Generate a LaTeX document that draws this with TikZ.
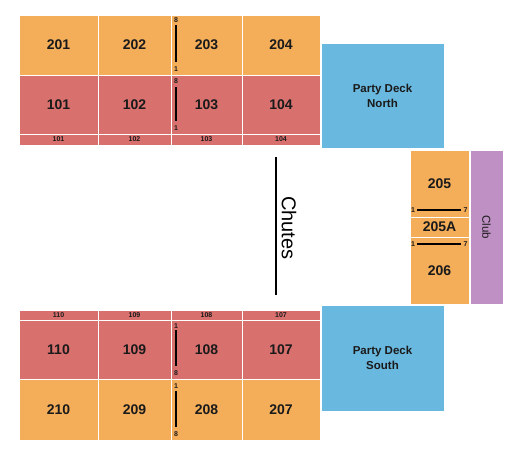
\documentclass[tikz,border=0pt]{standalone}
\usepackage{fontspec}
\setmainfont{Liberation Sans}
\definecolor{secor}{HTML}{F4AE5A}
\definecolor{secred}{HTML}{D8706E}
\definecolor{secblue}{HTML}{69B8DF}
\definecolor{secpurp}{HTML}{BF90C4}
\definecolor{txt}{HTML}{1A1A1A}
\tikzset{
  sec/.style={draw=white, line width=1pt, inner sep=0pt, text=txt,
    font=\fontsize{14}{14}\selectfont\bfseries},
  strip/.style={sec, font=\fontsize{7}{7}\selectfont\bfseries},
  deck/.style={sec, fill=secblue, align=center,
    font=\fontsize{11.5}{15}\selectfont\bfseries},
  mk/.style={inner sep=0pt, text=txt, font=\fontsize{7}{7}\selectfont\bfseries},
  rowline/.style={draw=black, line width=1.1pt},
}
\begin{document}
\begin{tikzpicture}[x=1pt,y=-1pt]
\useasboundingbox (0,0) rectangle (525,455);
% top 200s
\node[sec, fill=secor, minimum width=79, minimum height=60] (s201) at (58.5,45) {201};
\node[sec, fill=secor, minimum width=73, minimum height=60] (s202) at (134.5,45) {202};
\node[sec, fill=secor, minimum width=71, minimum height=60] (s203) at (206.5,45) {203};
\node[sec, fill=secor, minimum width=78, minimum height=60] (s204) at (281,45) {204};
% top 100s
\node[sec, fill=secred, minimum width=79, minimum height=59] (s101) at (58.5,104.5) {101};
\node[sec, fill=secred, minimum width=73, minimum height=59] (s102) at (134.5,104.5) {102};
\node[sec, fill=secred, minimum width=71, minimum height=59] (s103) at (206.5,104.5) {103};
\node[sec, fill=secred, minimum width=78, minimum height=59] (s104) at (281,104.5) {104};
% top strip
\node[strip, fill=secred, minimum width=79, minimum height=11] (t101) at (58.5,139.5) {101};
\node[strip, fill=secred, minimum width=73, minimum height=11] (t102) at (134.5,139.5) {102};
\node[strip, fill=secred, minimum width=71, minimum height=11] (t103) at (206.5,139.5) {103};
\node[strip, fill=secred, minimum width=78, minimum height=11] (t104) at (281,139.5) {104};
% bottom strip
\node[strip, fill=secred, minimum width=79, minimum height=10] (t110) at (58.5,315) {110};
\node[strip, fill=secred, minimum width=73, minimum height=10] (t109) at (134.5,315) {109};
\node[strip, fill=secred, minimum width=71, minimum height=10] (t108) at (206.5,315) {108};
\node[strip, fill=secred, minimum width=78, minimum height=10] (t107) at (281,315) {107};
% bottom 100s
\node[sec, fill=secred, minimum width=79, minimum height=59] (s110) at (58.5,349.5) {110};
\node[sec, fill=secred, minimum width=73, minimum height=59] (s109) at (134.5,349.5) {109};
\node[sec, fill=secred, minimum width=71, minimum height=59] (s108) at (206.5,349.5) {108};
\node[sec, fill=secred, minimum width=78, minimum height=59] (s107) at (281,349.5) {107};
% bottom 200s
\node[sec, fill=secor, minimum width=79, minimum height=61] (s210) at (58.5,409.5) {210};
\node[sec, fill=secor, minimum width=73, minimum height=61] (s209) at (134.5,409.5) {209};
\node[sec, fill=secor, minimum width=71, minimum height=61] (s208) at (206.5,409.5) {208};
\node[sec, fill=secor, minimum width=78, minimum height=61] (s207) at (281,409.5) {207};
% party decks
\node[deck, minimum width=123, minimum height=105] (pdn) at (382.5,95.5) {Party Deck\\North};
\node[deck, minimum width=123, minimum height=106] (pds) at (382.5,358) {Party Deck\\South};
% right side
\node[sec, fill=secor, minimum width=59, minimum height=67] (s205) at (439.5,183.5) {205};
\node[sec, fill=secor, minimum width=59, minimum height=20] (s205a) at (439.5,227) {205A};
\node[sec, fill=secor, minimum width=59, minimum height=67] (s206) at (439.5,270.5) {206};
\node[sec, fill=secpurp, minimum width=154, minimum height=33, rotate=-90,
  font=\fontsize{11.5}{11.5}\selectfont] (club) at (486.5,227) {Club};
% row markers
\node[mk] (r203t) at (176,20) {8};
\node[mk] (r203b) at (176,69) {1};
\coordinate (l203a) at (176,25); \coordinate (l203b) at (176,62);
\draw[rowline] (l203a) -- (l203b);
\node[mk] (r103t) at (176,81) {8};
\node[mk] (r103b) at (176,128) {1};
\coordinate (l103a) at (176,87); \coordinate (l103b) at (176,121);
\draw[rowline] (l103a) -- (l103b);
\node[mk] (r108t) at (176,326) {1};
\node[mk] (r108b) at (176,373) {8};
\coordinate (l108a) at (176,330); \coordinate (l108b) at (176,366);
\draw[rowline] (l108a) -- (l108b);
\node[mk] (r208t) at (176,386) {1};
\node[mk] (r208b) at (176,434) {8};
\coordinate (l208a) at (176,391); \coordinate (l208b) at (176,427);
\draw[rowline] (l208a) -- (l208b);
\node[mk] (r205l) at (413,210) {1};
\node[mk] (r205r) at (465.5,210) {7};
\coordinate (l205a) at (417,210); \coordinate (l205b) at (461,210);
\draw[rowline] (l205a) -- (l205b);
\node[mk] (r206l) at (413,244) {1};
\node[mk] (r206r) at (465.5,244) {7};
\coordinate (l206a) at (417,244); \coordinate (l206b) at (461,244);
\draw[rowline] (l206a) -- (l206b);
% chutes
\coordinate (ch1) at (276,157); \coordinate (ch2) at (276,295);
\draw[draw=black, line width=2.4pt] (ch1) -- (ch2);
\node[inner sep=0pt, rotate=-90, text=black, font=\fontsize{20}{20}\selectfont] (chutes) at (289,228) {Chutes};
\end{tikzpicture}
\end{document}
